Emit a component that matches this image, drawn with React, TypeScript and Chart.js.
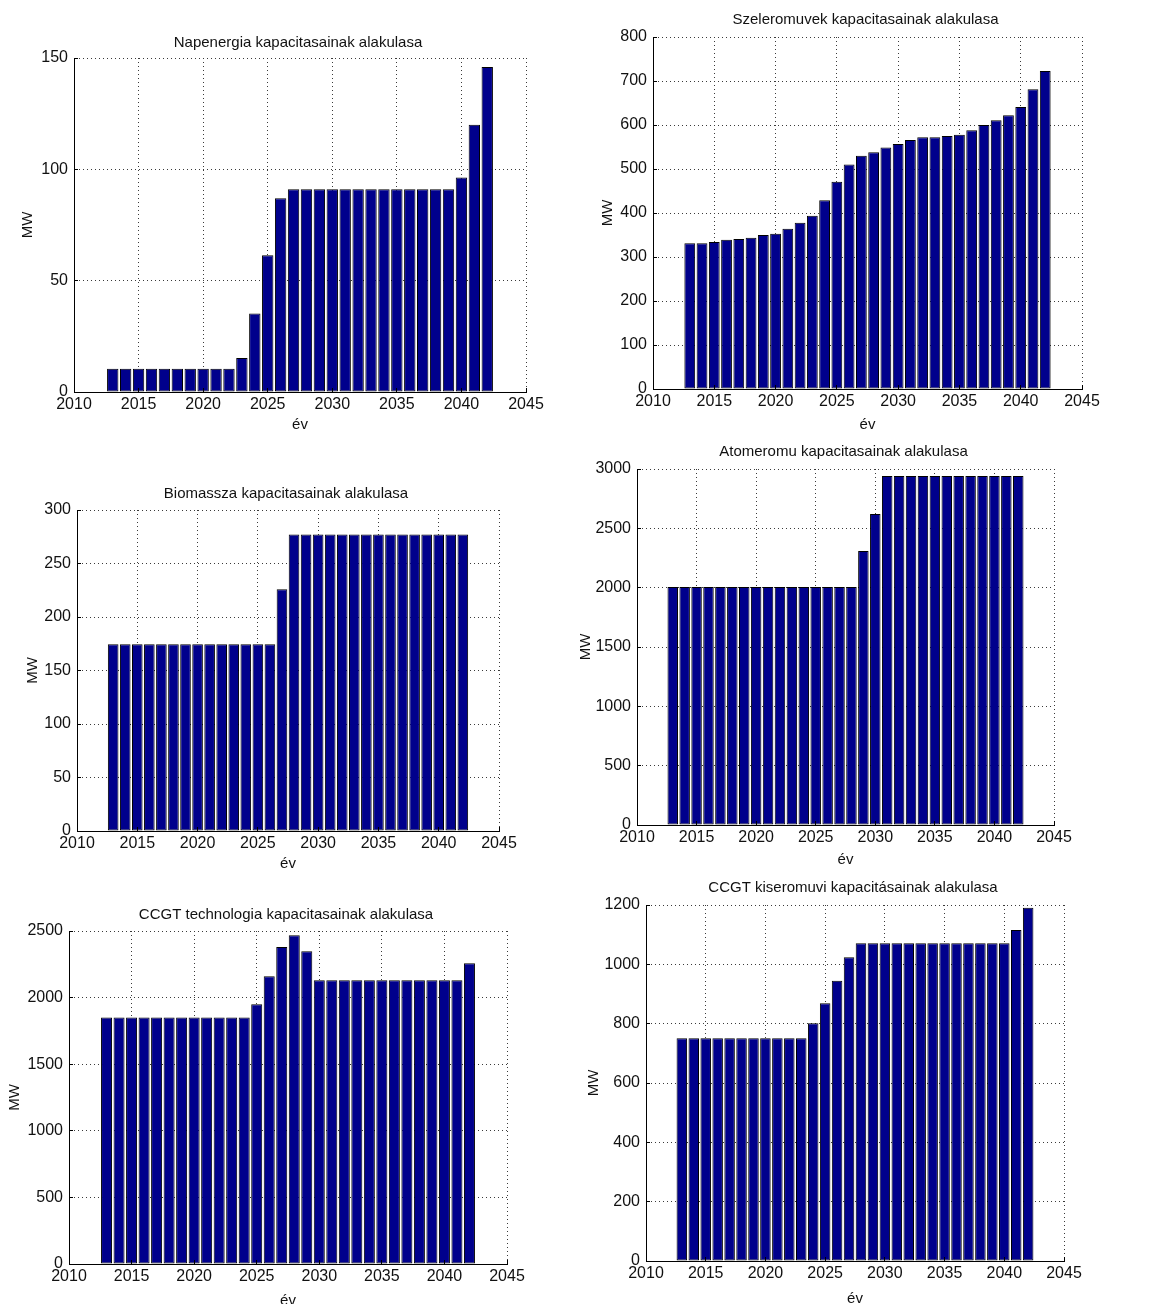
import { useEffect, useRef } from "react";
import { Chart, registerables } from "chart.js";

Chart.register(...registerables);

// Years shown on every panel and the x tick values
const years = [
  2013, 2014, 2015, 2016, 2017, 2018, 2019, 2020, 2021, 2022,
  2023, 2024, 2025, 2026, 2027, 2028, 2029, 2030, 2031, 2032,
  2033, 2034, 2035, 2036, 2037, 2038, 2039, 2040, 2041, 2042,
];
const yearTicks = [2010, 2015, 2020, 2025, 2030, 2035, 2040, 2045];

// Installed capacity, MW
const napenergia = [
  10.4, 10.4, 10.4, 10.4, 10.4, 10.4, 10.4, 10.4, 10.4, 10.4,
  15.3, 35.3, 61.4, 87, 91, 91, 91, 91, 91, 91,
  91, 91, 91, 91, 91, 91, 91, 96.3, 120, 146,
];
const napenergiaTicks = [0, 50, 100, 150];

const szeleromuvek = [
  331, 331, 334, 339, 341, 344, 350, 353, 364, 378,
  394, 429, 471, 510, 530, 538, 549, 557, 566, 572,
  572, 575, 578, 588, 600, 611, 622, 641, 681, 723,
];
const szeleromuvekTicks = [0, 100, 200, 300, 400, 500, 600, 700, 800];

const biomassza = [
  174.5, 174.5, 174.5, 174.5, 174.5, 174.5, 174.5, 174.5, 174.5, 174.5,
  174.5, 174.5, 174.5, 174.5, 226, 277, 277, 277, 277, 277,
  277, 277, 277, 277, 277, 277, 277, 277, 277, 277,
];
const biomasszaTicks = [0, 50, 100, 150, 200, 250, 300];

const atomeromu = [
  2005, 2005, 2005, 2005, 2005, 2005, 2005, 2005, 2005, 2005,
  2005, 2005, 2005, 2005, 2005, 2005, 2310, 2620, 2940, 2940,
  2940, 2940, 2940, 2940, 2940, 2940, 2940, 2940, 2940, 2940,
];
const atomeromuTicks = [0, 500, 1000, 1500, 2000, 2500, 3000];

const ccgt = [
  1850, 1850, 1850, 1850, 1850, 1850, 1850, 1850, 1850, 1850,
  1850, 1850, 1950, 2160, 2380, 2468, 2348, 2130, 2130, 2130,
  2130, 2130, 2130, 2130, 2130, 2130, 2130, 2130, 2130, 2258,
];
const ccgtTicks = [0, 500, 1000, 1500, 2000, 2500];

const kiseromuvi = [
  751, 751, 751, 751, 751, 751, 751, 751, 751, 751,
  751, 801, 869, 945, 1024, 1071, 1071, 1071, 1071, 1071,
  1071, 1071, 1071, 1071, 1071, 1071, 1071, 1071, 1116, 1191,
];
const kiseromuviTicks = [0, 200, 400, 600, 800, 1000, 1200];

const titles = [
  "Napenergia kapacitasainak alakulasa",
  "Szeleromuvek kapacitasainak alakulasa",
  "Biomassza kapacitasainak alakulasa",
  "Atomeromu kapacitasainak alakulasa",
  "CCGT technologia kapacitasainak alakulasa",
  "CCGT kiseromuvi kapacitásainak alakulasa",
];
const xAxisLabel = "év";
const yAxisLabel = "MW";

const seriesList = [napenergia, szeleromuvek, biomassza, atomeromu, ccgt, kiseromuvi];
const tickList = [napenergiaTicks, szeleromuvekTicks, biomasszaTicks, atomeromuTicks, ccgtTicks, kiseromuviTicks];

// Plot-box frames on the page (axes rectangle) and label offsets
const frames = [
  { left: 74, top: 58, right: 526, bottom: 392, yGap: 46, xGap: 33, tGap: 11 },
  { left: 653, top: 37, right: 1082, bottom: 389, yGap: 45, xGap: 36, tGap: 13 },
  { left: 77, top: 510, right: 499, bottom: 831, yGap: 44, xGap: 33, tGap: 12 },
  { left: 637, top: 469, right: 1054, bottom: 825, yGap: 51, xGap: 35, tGap: 13 },
  { left: 69, top: 931, right: 507, bottom: 1264, yGap: 54, xGap: 37, tGap: 12 },
  { left: 646, top: 905, right: 1064, bottom: 1261, yGap: 52, xGap: 38, tGap: 13 },
];

const PAD_L = 10;
const Y_W = 70;
const PAD_T = 40;
const PAD_R = 40;
const X_H = 50;
const PAD_B = 10;
const TICK_LEN = 4;

const BAR_FILL = "#00008c";
const GRID = "#3a3a3a";
const TEXT = "#111111";
const FONT = '"Liberation Sans", Arial, Helvetica, sans-serif';
const TICK_SIZE = 16;
const LABEL_SIZE = 15;

const crisp = (p: number) => Math.round(p - 0.5) + 0.5;

// Draws the inward tick marks and the title above the plot box
const matlabAxes = {
  id: "matlabAxes",
  afterDatasetsDraw(chart: any, _args: any, opts: any) {
    const { ctx, chartArea: a, scales } = chart;
    const xs = scales.x;
    const ys = scales.y;
    ctx.save();
    ctx.strokeStyle = "#000";
    ctx.lineWidth = 1;
    ctx.beginPath();
    for (const t of xs.ticks) {
      const px = crisp(xs.getPixelForValue(t.value));
      ctx.moveTo(px, a.bottom);
      ctx.lineTo(px, a.bottom - TICK_LEN);
    }
    for (const t of ys.ticks) {
      const py = crisp(ys.getPixelForValue(t.value));
      ctx.moveTo(a.left, py);
      ctx.lineTo(a.left + TICK_LEN, py);
    }
    ctx.stroke();
    ctx.fillStyle = TEXT;
    ctx.font = `15px ${FONT}`;
    ctx.textAlign = "center";
    ctx.textBaseline = "alphabetic";
    ctx.fillText(opts.text, (a.left + a.right) / 2 - 2, a.top - opts.gap);
    ctx.restore();
  },
};

function Panel({ index }: { index: number }) {
  const ref = useRef<HTMLCanvasElement | null>(null);
  const f = frames[index];
  const width = f.right - f.left + PAD_L + Y_W + PAD_R;
  const height = f.bottom - f.top + PAD_T + X_H + PAD_B;

  useEffect(() => {
    if (!ref.current) return;
    const values = seriesList[index];
    const yTicks = tickList[index];
    const lh = LABEL_SIZE * 1.2;
    const chart = new Chart(ref.current, {
      type: "bar",
      data: {
        datasets: [
          {
            data: years.map((yr, i) => ({ x: yr, y: values[i] })),
            backgroundColor: BAR_FILL,
            borderColor: "#000",
            borderWidth: 1,
            borderSkipped: false,
            barPercentage: 0.88,
            categoryPercentage: 1,
          } as any,
        ],
      },
      options: {
        responsive: false,
        animation: false,
        devicePixelRatio: 1,
        events: [],
        layout: { padding: { left: PAD_L, top: PAD_T, right: PAD_R, bottom: PAD_B } },
        plugins: {
          legend: { display: false },
          tooltip: { enabled: false },
          title: { display: false },
          matlabAxes: { text: titles[index], gap: f.tGap },
        } as any,
        scales: {
          x: {
            type: "linear",
            min: yearTicks[0],
            max: yearTicks[yearTicks.length - 1],
            offset: false,
            afterBuildTicks: (s: any) => {
              s.ticks = yearTicks.map((v) => ({ value: v }));
            },
            afterFit: (s: any) => {
              s.height = X_H;
              s.paddingLeft = 0;
              s.paddingRight = 0;
            },
            grid: { offset: false, color: GRID, lineWidth: 1, drawTicks: false },
            border: { display: true, color: "#000", width: 1, dash: [1, 3] },
            ticks: {
              padding: 3,
              color: TEXT,
              font: { family: FONT, size: TICK_SIZE },
              autoSkip: false,
              maxRotation: 0,
              callback: (v: any) => String(v),
            },
            title: {
              display: true,
              text: xAxisLabel,
              color: TEXT,
              font: { family: FONT, size: LABEL_SIZE },
              padding: { top: 0, bottom: X_H - f.xGap - lh / 2 },
            },
          },
          y: {
            type: "linear",
            min: yTicks[0],
            max: yTicks[yTicks.length - 1],
            afterBuildTicks: (s: any) => {
              s.ticks = yTicks.map((v) => ({ value: v }));
            },
            afterFit: (s: any) => {
              s.width = Y_W;
              s.paddingTop = 0;
              s.paddingBottom = 0;
            },
            grid: { color: GRID, lineWidth: 1, drawTicks: false },
            border: { display: true, color: "#000", width: 1, dash: [1, 3] },
            ticks: {
              padding: 6,
              color: TEXT,
              font: { family: FONT, size: TICK_SIZE },
              autoSkip: false,
              callback: (v: any) => String(v),
            },
            title: {
              display: true,
              text: yAxisLabel,
              color: TEXT,
              font: { family: FONT, size: LABEL_SIZE },
              padding: { top: Y_W - f.yGap - lh / 2, bottom: 0 },
            },
          },
        },
      },
      plugins: [matlabAxes as any],
    });
    return () => chart.destroy();
  }, [index]);

  return (
    <canvas
      ref={ref}
      width={width}
      height={height}
      style={{
        position: "absolute",
        left: f.left - PAD_L - Y_W,
        top: f.top - PAD_T,
        width,
        height,
      }}
    />
  );
}

export default function App() {
  return (
    <div
      style={{
        position: "absolute",
        left: 0,
        top: 0,
        width: 1164,
        height: 1304,
        background: "#fff",
        overflow: "hidden",
      }}
    >
      {frames.map((_, i) => (
        <Panel key={i} index={i} />
      ))}
    </div>
  );
}
